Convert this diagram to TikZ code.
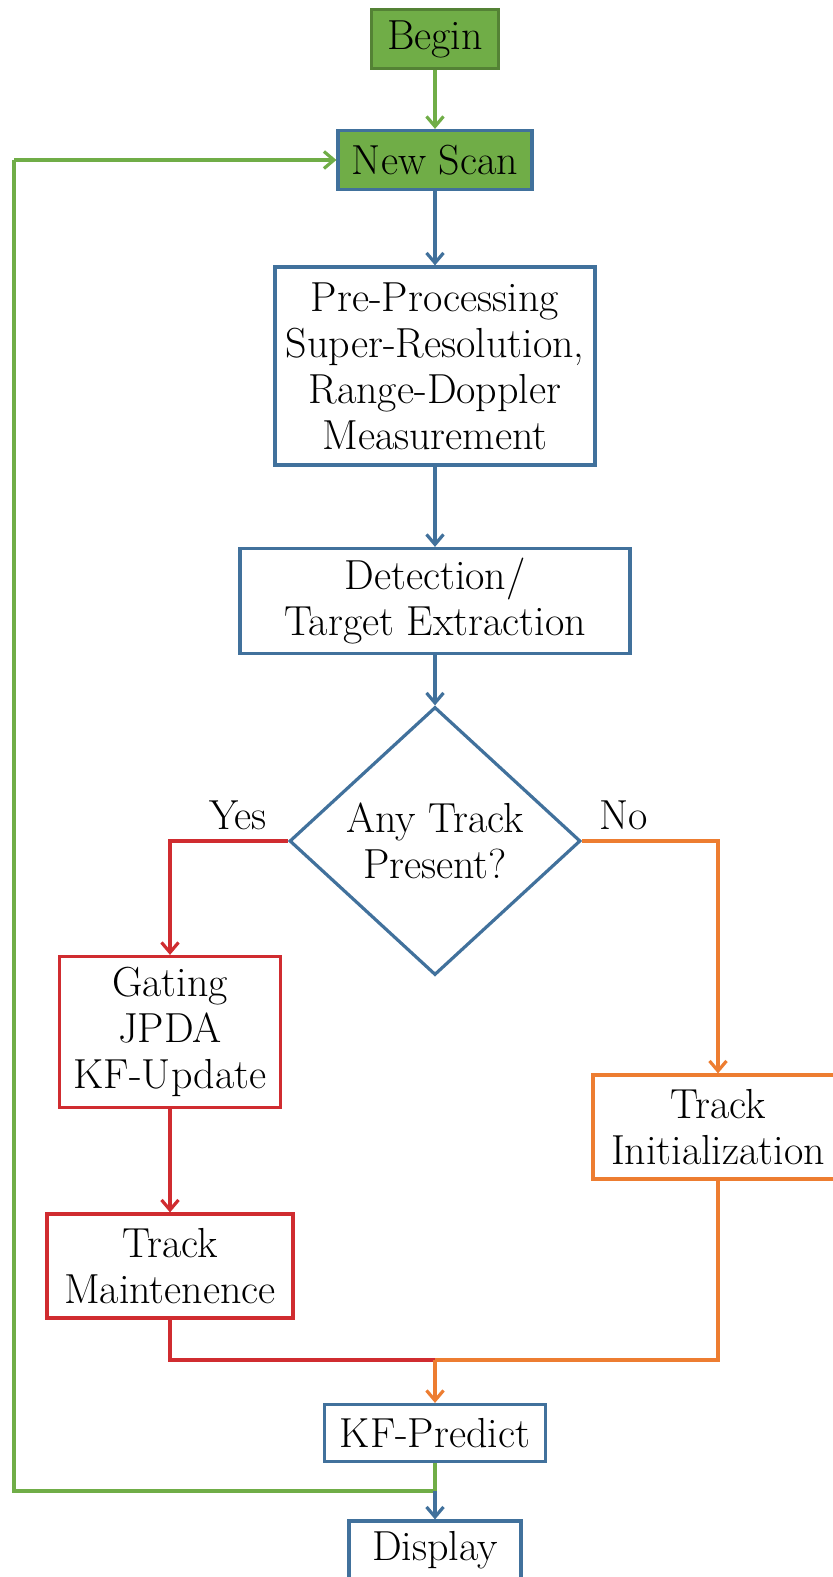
\documentclass[tikz,border=0pt]{standalone}
\usetikzlibrary{arrows.meta,shapes.geometric}
\definecolor{cblue}{RGB}{65,113,156}
\definecolor{cgreen}{RGB}{112,173,71}
\definecolor{cdkgreen}{RGB}{84,130,53}
\definecolor{cred}{RGB}{208,44,48}
\definecolor{corange}{RGB}{237,125,49}
\tikzset{
  lbl/.style={font=\fontsize{21}{23}\selectfont},
  box/.style={lbl, draw=#1, line width=1.6pt, align=center, inner sep=0pt, fill=white},
  link/.style={draw=#1, line width=1.6pt,
    -{Straight Barb[length=5pt,width=8.5pt,line width=1.6pt]}},
  plain/.style={draw=#1, line width=1.6pt},
}
\begin{document}
\begin{tikzpicture}[x=0.5pt,y=-0.5pt]
\useasboundingbox (0,0) rectangle (832,1577);

% process boxes
\node[box=cdkgreen, fill=cgreen, minimum width=63.5pt, minimum height=29.5pt] (begin) at (435,39) {Begin};
\node[box=cblue, fill=cgreen, minimum width=97pt, minimum height=29.5pt] (scan) at (435,160) {New Scan};
\node[box=cblue, minimum width=160pt, minimum height=99pt] (pre) at (435,366)
  {Pre-Processing\\Super-Resolution,\\Range-Doppler\\Measurement};
\node[box=cblue, minimum width=195pt, minimum height=52.5pt] (det) at (435,601)
  {Detection/\\Target Extraction};
\node[box=cblue, shape=diamond, aspect=1.09, minimum width=145.5pt, minimum height=134pt] (dia) at (435,841)
  {Any Track\\Present?};
\node[box=cred, minimum width=110.5pt, minimum height=75.5pt] (gat) at (170,1032)
  {Gating\\JPDA\\KF-Update};
\node[box=cred, minimum width=123pt, minimum height=52pt] (mnt) at (170,1266)
  {Track\\Maintenence};
\node[box=corange, minimum width=125pt, minimum height=52pt] (ini) at (718,1127)
  {Track\\Initialization};
\node[box=cblue, minimum width=110.5pt, minimum height=28.5pt] (prd) at (435,1433) {KF-Predict};
\node[box=cblue, minimum width=86pt, minimum height=29pt] (dsp) at (435,1550) {Display};

% branch labels
\node[lbl, anchor=base] (yes) at (238,829) {Yes};
\node[lbl, anchor=base] (no) at (624,829) {No};

% junction points
\coordinate (mrg) at (435,1360);
\coordinate (lp) at (435,1491);
\coordinate (lc) at (14,1491);
\coordinate (tc) at (14,160);

% main flow
\draw[link=cgreen] (begin) -- (scan);
\draw[link=cblue] (scan) -- (pre);
\draw[link=cblue] (pre) -- (det);
\draw[link=cblue] (det) -- (dia);

% yes branch
\draw[link=cred] (dia.west) -| (gat.north);
\draw[link=cred] (gat) -- (mnt);
\draw[plain=cred] (mnt.south) |- (mrg);

% no branch
\draw[link=corange] (dia.east) -| (ini.north);
\draw[plain=corange] (ini.south) |- (mrg);
\draw[link=corange] (mrg) -- (prd);

% loop back to a new scan
\draw[plain=cgreen] (prd.south) -- (lp) -- (lc) -- (tc);
\draw[link=cgreen] (tc) -- (scan.west);
\draw[link=cblue] (lp) -- (dsp);
\end{tikzpicture}
\end{document}
